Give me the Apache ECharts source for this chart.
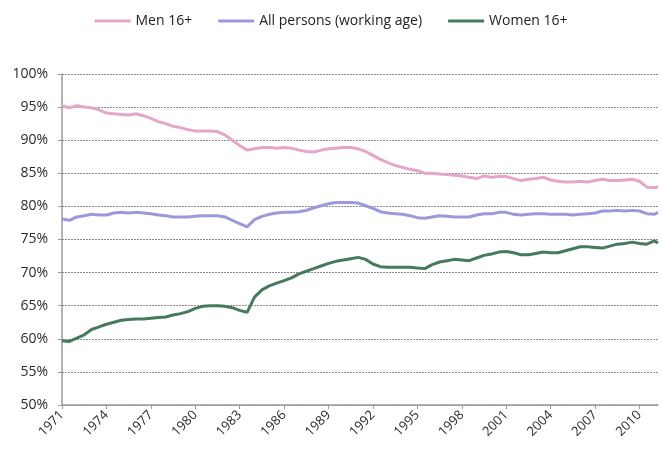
<!DOCTYPE html>
<html>
<head>
<meta charset="utf-8">
<script src="https://cdn.jsdelivr.net/npm/echarts@6/dist/echarts.min.js"></script>
<style>html,body{margin:0;padding:0;background:#fff}#c{width:662px;height:454px}</style>
</head>
<body>
<div id="c"></div>
<script>
const years = [1971,1971.5,1972,1972.5,1973,1973.5,1974,1974.5,1975,1975.5,1976,1976.5,1977,1977.5,1978,1978.5,1979,1979.5,1980,1980.5,
1981,1981.5,1982,1982.5,1983,1983.5,1984,1984.5,1985,1985.5,1986,1986.5,1987,1987.5,1988,1988.5,1989,1989.5,1990,1990.5,
1991,1991.5,1992,1992.5,1993,1993.5,1994,1994.5,1995,1995.5,1996,1996.5,1997,1997.5,1998,1998.5,1999,1999.5,2000,2000.5,
2001,2001.5,2002,2002.5,2003,2003.5,2004,2004.5,2005,2005.5,2006,2006.5,2007,2007.5,2008,2008.5,2009,2009.5,2010,2010.5,
2011,2011.25];

const men = [95.2,94.9,95.2,95.0,94.9,94.6,94.1,94.0,93.9,93.8,94.0,93.7,93.3,92.8,92.5,92.1,91.9,91.6,91.4,91.4,
91.4,91.3,90.8,90.0,89.2,88.5,88.7,88.9,88.9,88.8,88.9,88.8,88.5,88.3,88.2,88.5,88.7,88.8,88.9,88.9,
88.7,88.3,87.7,87.1,86.6,86.2,85.9,85.6,85.4,85.0,85.0,84.9,84.8,84.7,84.6,84.4,84.2,84.6,84.4,84.5,
84.5,84.2,83.9,84.1,84.2,84.4,84.0,83.8,83.7,83.7,83.8,83.7,83.9,84.1,83.9,83.9,84.0,84.1,83.8,82.9,
82.8,83.0];

const allPersons = [78.1,77.9,78.4,78.6,78.8,78.7,78.7,79.0,79.1,79.0,79.1,79.0,78.9,78.7,78.6,78.4,78.4,78.4,78.5,78.6,
78.6,78.6,78.4,77.9,77.4,76.9,78.0,78.5,78.8,79.0,79.1,79.1,79.2,79.4,79.8,80.1,80.4,80.6,80.6,80.6,
80.5,80.1,79.7,79.2,79.0,78.9,78.8,78.6,78.3,78.2,78.4,78.6,78.5,78.4,78.4,78.4,78.7,78.9,78.9,79.1,
79.1,78.8,78.7,78.8,78.9,78.9,78.8,78.8,78.8,78.7,78.8,78.9,79.0,79.3,79.3,79.4,79.3,79.4,79.3,78.9,
78.8,79.1];

const women = [59.7,59.6,60.1,60.6,61.4,61.8,62.2,62.5,62.8,62.9,63.0,63.0,63.1,63.2,63.3,63.6,63.8,64.1,64.6,64.9,
65.0,65.0,64.9,64.7,64.3,64.0,66.3,67.4,68.0,68.4,68.8,69.2,69.8,70.2,70.6,71.0,71.4,71.7,71.9,72.1,
72.3,72.0,71.3,70.9,70.8,70.8,70.8,70.8,70.7,70.6,71.2,71.6,71.8,72.0,71.9,71.8,72.2,72.6,72.8,73.1,
73.2,73.0,72.7,72.7,72.9,73.1,73.0,73.0,73.3,73.6,73.9,73.9,73.8,73.7,74.0,74.3,74.4,74.6,74.4,74.3,
74.8,74.5];

const seriesNames = ['Men 16+', 'All persons (working age)', 'Women 16+'];
const colors = ['#e6a6c8', '#9d98dc', '#467a5f'];

function pairs(vals){ return years.map((y,i)=>[y, vals[i]]); }

const chart = echarts.init(document.getElementById('c'));
chart.setOption({
  animation: false,
  backgroundColor: '#fff',
  textStyle: { fontFamily: 'Open Sans' },
  legend: {
    top: 9, left: 'center',
    itemWidth: 36, itemHeight: 3, itemGap: 26,
    icon: 'rect',
    textStyle: { fontSize: 14, color: '#222', fontFamily: 'Open Sans' },
    data: seriesNames
  },
  grid: { left: 62, right: 4, top: 74, bottom: 49, containLabel: false },
  xAxis: {
    type: 'value', min: 1971, max: 2011.25, interval: 3,
    axisLine: { lineStyle: { color: '#9a9a9a', width: 1.5 } },
    axisTick: { show: true, length: 4, lineStyle: { color: '#9a9a9a' } },
    splitLine: { show: false },
    axisLabel: {
      rotate: 45, fontSize: 13, color: '#2a2a2a', margin: 8,
      showMaxLabel: false,
      formatter: v => (Math.abs(v - Math.round(v)) < 1e-6 && (Math.round(v) - 1971) % 3 === 0) ? String(Math.round(v)) : ''
    }
  },
  yAxis: {
    type: 'value', min: 50, max: 100, interval: 5,
    axisLine: { show: true, lineStyle: { color: '#9a9a9a', width: 1.5 } },
    axisTick: { show: true, length: 4, lineStyle: { color: '#9a9a9a' } },
    splitLine: { show: true, lineStyle: { color: '#8c8c8c', type: [2, 1], width: 1 } },
    axisLabel: { fontSize: 14, color: '#2a2a2a', margin: 14, formatter: v => v + '%' }
  },
  series: [
    { name: seriesNames[0], type: 'line', data: pairs(men), showSymbol: false, symbol: 'none', lineStyle: { width: 3, color: colors[0] }, itemStyle: { color: colors[0] } },
    { name: seriesNames[1], type: 'line', data: pairs(allPersons), showSymbol: false, symbol: 'none', lineStyle: { width: 3, color: colors[1] }, itemStyle: { color: colors[1] } },
    { name: seriesNames[2], type: 'line', data: pairs(women), showSymbol: false, symbol: 'none', lineStyle: { width: 3, color: colors[2] }, itemStyle: { color: colors[2] } }
  ]
});
</script>
</body>
</html>
